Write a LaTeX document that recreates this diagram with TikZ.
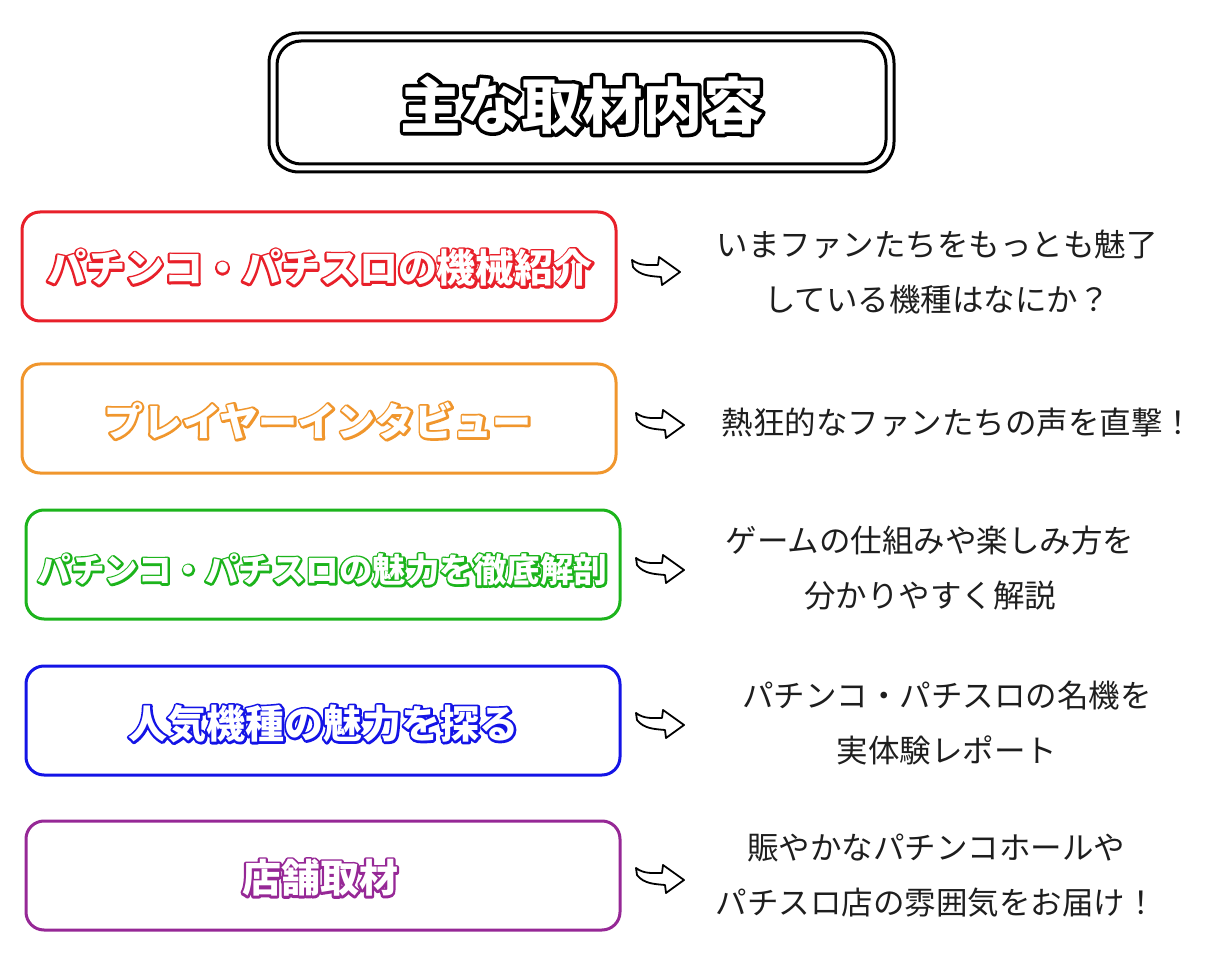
\documentclass[tikz,border=0pt]{standalone}
\usepackage{fontspec}
\newfontfamily\cjk{Noto Sans CJK JP}
\newfontfamily\cjkblack{Noto Sans CJK JP Black}
\usetikzlibrary{calc}
\definecolor{cred}{HTML}{E8202A}
\definecolor{corange}{HTML}{F0962D}
\definecolor{cgreen}{HTML}{1CB41C}
\definecolor{cblue}{HTML}{1414E6}
\definecolor{cpurple}{HTML}{962896}
\definecolor{ctext}{HTML}{1E1E1E}
% outlined text: #1 outline colour as "r g b", #2 outline stroke width, #3 text
\newcommand\outl[3]{%
  \rlap{\special{pdf:literal direct 2 Tr #2 w 1 j #1 RG #1 rg}#3%
    \special{pdf:literal direct 0 Tr 1 w 0 j 0 0 0 RG 0 0 0 rg}}%
  \special{pdf:literal direct 0 Tr 1 1 1 rg}#3%
  \special{pdf:literal direct 0 Tr 0 0 0 rg}}
\begin{document}
\begin{tikzpicture}[x=1pt,y=-1pt,
  itembox/.style={draw=#1, line width=3pt, rounded corners=18pt,
    minimum width=594pt, minimum height=109pt, inner sep=0pt, fill=white},
  label/.style={inner sep=0pt, font={\cjkblack\fontsize{39}{44}\selectfont}},
  desc/.style={inner sep=0pt, align=center, text=ctext,
    font={\cjk\fontsize{31.5}{55}\selectfont}},
  curvyarrow/.pic={
    \draw[line width=1.8pt, line join=round, fill=white]
      (-24,-10) .. controls (-16,-4) and (-8,-5) .. (2,-5) -- (3,-13) -- (24,2)
      -- (6,15) -- (5,7) .. controls (-5,6) and (-16,6) .. (-23,-3) -- cycle;
  }]
\useasboundingbox (0,0) rectangle (1213,957);
\fill[white] (0,0) rectangle (1213,957);

% title
\node[draw, line width=3pt, rounded corners=30pt, minimum width=625pt,
  minimum height=139pt, inner sep=0pt] (touter) at (581.5,102.5) {};
\node[draw, line width=3pt, rounded corners=24pt, minimum width=609pt,
  minimum height=123pt, inner sep=0pt] (tinner) at (581.5,102.5) {};
\node[inner sep=0pt, font={\cjkblack\fontsize{60.5}{66}\selectfont}] (title)
  at (582,105) {\outl{0 0 0}{7}{主な取材内容}};

% boxes
\node[itembox=cred]    (b1) at (319,266.5) {};
\node[itembox=corange] (b2) at (319,418.5) {};
\node[itembox=cgreen]  (b3) at (323,564.5) {};
\node[itembox=cblue]   (b4) at (323,720.5) {};
\node[itembox=cpurple] (b5) at (323,875.5) {};

\node[label] (l1) at (320,268) {\outl{0.910 0.125 0.165}{4.4}{パチンコ・パチスロの機械紹介}};
\node[label] (l2) at (318,421) {\outl{0.941 0.588 0.176}{4.4}{プレイヤーインタビュー}};
\node[inner sep=0pt, font={\cjkblack\fontsize{33.5}{40}\selectfont}] (l3) at (322.5,570)
  {\outl{0.110 0.706 0.110}{4}{パチンコ・パチスロの魅力を徹底解剖}};
\node[label] (l4) at (323.5,724) {\outl{0.078 0.078 0.902}{4.4}{人気機種の魅力を探る}};
\node[label] (l5) at (320,878) {\outl{0.588 0.157 0.588}{4.4}{店舗取材}};

% arrows
\pic at (656,270) {curvyarrow};
\pic at (660,423) {curvyarrow};
\pic at (660,568) {curvyarrow};
\pic at (660,723) {curvyarrow};
\pic at (660,878) {curvyarrow};

% descriptions
\node[desc] (t1) at (937,272) {いまファンたちをもっとも魅了\\している機種はなにか？};
\node[desc] (t2) at (958,423) {熱狂的なファンたちの声を直撃！};
\node[desc] (t3) at (930,568) {ゲームの仕組みや楽しみ方を\\分かりやすく解説};
\node[desc] (t4) at (947,723) {パチンコ・パチスロの名機を\\実体験レポート};
\node[desc] (t5) at (936,876) {賑やかなパチンコホールや\\パチスロ店の雰囲気をお届け！};
\end{tikzpicture}
\end{document}
